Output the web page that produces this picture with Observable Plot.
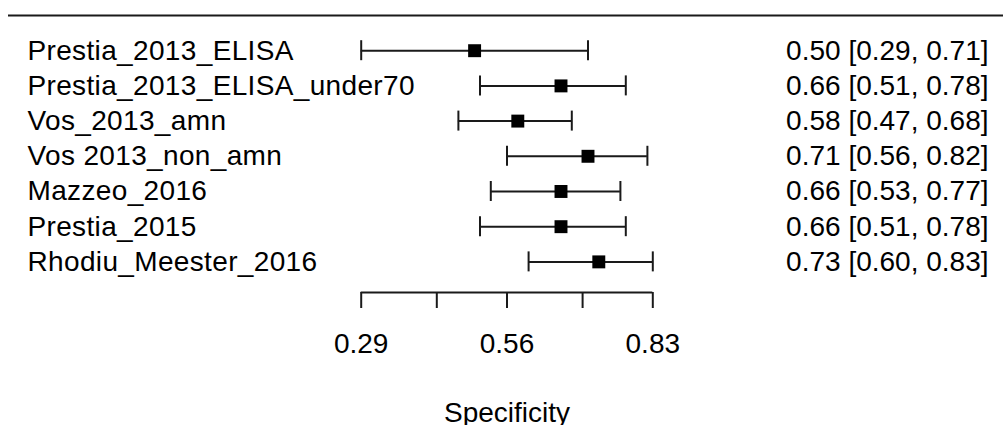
<!DOCTYPE html>
<html><head><meta charset="utf-8">
<script src="https://cdn.jsdelivr.net/npm/d3@7"></script>
<script src="https://cdn.jsdelivr.net/npm/@observablehq/plot@0.6"></script>
<style>html,body{margin:0;padding:0;background:#fff} #chart svg{display:block} .studylab text{letter-spacing:0.35px}</style>
</head><body><div id="chart"></div>
<script>
const studies = ["Prestia_2013_ELISA","Prestia_2013_ELISA_under70","Vos_2013_amn","Vos 2013_non_amn","Mazzeo_2016","Prestia_2015","Rhodiu_Meester_2016"];
const estimates = [0.50,0.66,0.58,0.71,0.66,0.66,0.73];
const lower = [0.29,0.51,0.47,0.56,0.53,0.51,0.60];
const upper = [0.71,0.78,0.68,0.82,0.77,0.78,0.83];
const axisTicks = [0.29,0.43,0.56,0.70,0.83];
const tickLabels = ["0.29","","0.56","","0.83"];
const axisTitle = "Specificity";

const rows = studies.map((s,i)=>({
  study:s, row:i, est:estimates[i], lo:lower[i], hi:upper[i],
  label:`${estimates[i].toFixed(2)} [${lower[i].toFixed(2)}, ${upper[i].toFixed(2)}]`
}));

const font = "'Liberation Sans', Arial, sans-serif";
const fs = 28;
const ink = "#1a1a1a";
const lw = 2;
const yMax = studies.length - 0.13;
const xMin = axisTicks[0], xMax = axisTicks[axisTicks.length-1];

const chart = Plot.plot({
  width: 1003, height: 425,
  marginTop: 15, marginBottom: 133, marginLeft: 8, marginRight: 0,
  style: {fontFamily: font, fontSize: fs+"px", color:"#000", background:"#fff"},
  x: {domain: [xMin, xMax], range: [360.7, 652.3]},
  y: {domain: [-1, yMax], reverse: true, axis: null},
  marks: [
    Plot.ruleY([-1], {stroke: ink, strokeWidth: lw}),
    Plot.ruleY([yMax], {x1: xMin, x2: xMax, stroke: ink, strokeWidth: lw}),
    Plot.axisX({ticks: axisTicks, tickFormat: d => tickLabels[axisTicks.indexOf(d)], tickSize: 16, tickPadding: 25,
      fontSize: fs, stroke: ink, strokeWidth: lw, label: null, fill: "#000"}),
    Plot.ruleY(rows, {y:"row", x1:"lo", x2:"hi", stroke: ink, strokeWidth: lw}),
    Plot.ruleX(rows, {x:"lo", y1:"row", y2:"row", insetTop:-10, insetBottom:-10, stroke: ink, strokeWidth: lw}),
    Plot.ruleX(rows, {x:"hi", y1:"row", y2:"row", insetTop:-10, insetBottom:-10, stroke: ink, strokeWidth: lw}),
    Plot.dot(rows, {x:"est", y:"row", symbol:"square", r:7.3, fill:"#000", stroke:null}),
    Plot.text(rows, {y:"row", text:"study", frameAnchor:"left", textAnchor:"start", dx:19, fill:"#000", className:"studylab"}),
    Plot.text(rows, {y:"row", text:"label", frameAnchor:"right", textAnchor:"end", dx:-15, fill:"#000"}),
    Plot.text([axisTitle], {x: (xMin + xMax) / 2, text: d => d, frameAnchor:"bottom", lineAnchor:"top", dy:110, fill:"#000"})
  ]
});
document.getElementById("chart").appendChild(chart);
</script>
</body></html>
